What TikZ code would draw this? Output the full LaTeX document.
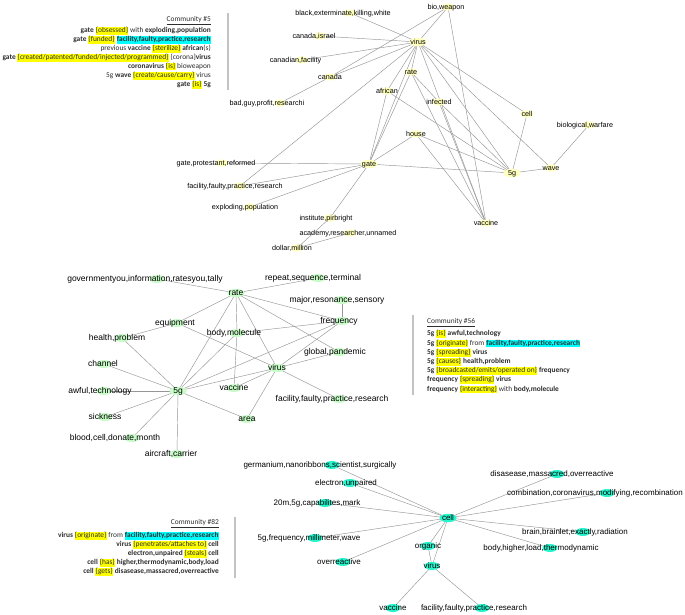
\documentclass[tikz,border=0pt]{standalone}
\usepackage{fontspec}
\setmainfont{Liberation Sans}
\newfontfamily\calfont{Carlito}
\usetikzlibrary{shapes.geometric,backgrounds}
\definecolor{ylw}{RGB}{255,255,190}
\definecolor{grn}{RGB}{200,252,200}
\definecolor{cyn}{RGB}{40,245,205}
\definecolor{edgegray}{RGB}{150,150,150}
\definecolor{sepgray}{RGB}{195,195,195}
\definecolor{hlyellow}{RGB}{255,255,0}
\definecolor{hlcyan}{RGB}{0,255,255}
\definecolor{txtgray}{RGB}{45,45,45}
\newcommand\hlY[1]{{\setlength{\fboxsep}{0.3pt}\colorbox{hlyellow}{\rule[-1.7pt]{0pt}{7.1pt}#1}}}
\newcommand\hlC[1]{{\setlength{\fboxsep}{0.3pt}\colorbox{hlcyan}{\rule[-1.7pt]{0pt}{7.1pt}#1}}}
% #1 style, #2 name, #3 x, #4 y, #5 label x, #6 text
\newcommand\gnode[6]{%
  \node[#1] (#2) at (#3,#4) {};
  \node[lbl] (#2-t) at (#5,#4) {#6};}
\tikzset{
  blob/.style={ellipse, inner sep=0pt, minimum width=13pt, minimum height=7pt},
  big/.style={minimum width=17pt, minimum height=8.5pt},
  yn/.style={blob, fill=ylw},
  gn/.style={blob, fill=grn, minimum width=15pt, minimum height=8pt},
  cn/.style={blob, fill=cyn, minimum width=15pt, minimum height=8pt},
  edge/.style={draw=edgegray, line width=0.45pt},
  sep/.style={draw=sepgray, line width=1.1pt},
  cl/.style={font=\calfont\fontsize{7.4}{8.8}\selectfont, inner sep=0pt, text height=5.6pt, text depth=1.7pt, text=txtgray},
}
\begin{document}
\begin{tikzpicture}[x=1pt,y=-1pt]
\useasboundingbox (0,0) rectangle (685,614);

% ---------------- top cluster (yellow) ----------------
\begin{scope}[lbl/.style={font=\fontsize{7.2}{8}\selectfont, inner sep=0pt, text height=0.7em, text depth=0.2em}]
\gnode{yn,big}{tvirus}{418}{42}{418}{virus}
\gnode{yn}{tbio}{448}{7}{446}{bio,weapon}
\gnode{yn}{tblack}{350}{13}{343}{black,exterminate,killing,white}
\gnode{yn}{tcanis}{320}{36}{314}{canada,israel}
\gnode{yn}{tcanfac}{302}{60}{295.5}{canadian,facility}
\gnode{yn}{tcanada}{330}{77}{330}{canada}
\gnode{yn}{trate}{411}{72}{411}{rate}
\gnode{yn}{tafrican}{387}{91}{387}{african}
\gnode{yn}{tbad}{280}{103}{267}{bad,guy,profit,researchi}
\gnode{yn}{tinf}{439}{102}{439}{infected}
\gnode{yn}{thouse}{416}{134}{416}{house}
\gnode{yn}{tcell}{527}{114}{527}{cell}
\gnode{yn}{tbiow}{589}{125}{585}{biological,warfare}
\gnode{yn}{twave}{551}{168}{551}{wave}
\gnode{yn,big}{tfiveg}{512}{173}{512}{5g}
\gnode{yn}{tvac}{486}{223}{486}{vaccine}
\gnode{yn,big}{tgate}{369}{164}{369}{gate}
\gnode{yn}{tgpr}{222}{163}{216}{gate,protestant,reformed}
\gnode{yn}{tfac}{240}{186}{235}{facility,faulty,practice,research}
\gnode{yn}{texp}{250}{207}{245}{exploding,population}
\gnode{yn}{tinst}{330}{218}{326}{institute,pirbright}
\gnode{yn}{tacad}{350}{233}{348}{academy,researcher,unnamed}
\gnode{yn}{tdol}{297}{248}{292}{dollar,million}
\end{scope}

% ---------------- middle cluster (green) ----------------
\begin{scope}[lbl/.style={font=\fontsize{8.5}{9}\selectfont, inner sep=0pt, text height=0.7em, text depth=0.2em}]
\gnode{gn}{mgov}{157}{279}{145}{governmentyou,information,ratesyou,tally}
\gnode{gn,big}{mrate}{236}{293}{236}{rate}
\gnode{gn}{mrep}{318}{278}{313}{repeat,sequence,terminal}
\gnode{gn}{mmaj}{342}{300}{337}{major,resonance,sensory}
\gnode{gn}{mfreq}{342}{321}{339}{frequency}
\gnode{gn}{mequip}{177}{323}{175}{equipment}
\gnode{gn}{mhealth}{122}{338}{117}{health,problem}
\gnode{gn}{mbody}{237}{333}{234}{body,molecule}
\gnode{gn}{mglob}{339}{352}{335}{global,pandemic}
\gnode{gn}{mchan}{104}{364}{103}{channel}
\gnode{gn,big}{mvirus}{277}{368}{277}{virus}
\gnode{gn}{mawful}{104}{391}{100}{awful,technology}
\gnode{gn,big}{mfiveg}{178}{391}{178}{5g}
\gnode{gn}{mvac}{234}{388}{234}{vaccine}
\gnode{gn}{mfac}{339}{399}{332}{facility,faulty,practice,research}
\gnode{gn}{msick}{105}{417}{105}{sickness}
\gnode{gn}{marea}{247}{419}{247}{area}
\gnode{gn}{mblood}{132}{438}{115}{blood,cell,donate,month}
\gnode{gn}{mair}{177}{454}{171}{aircraft,carrier}
\end{scope}

% ---------------- bottom cluster (cyan) ----------------
\begin{scope}[lbl/.style={font=\fontsize{8}{9}\selectfont, inner sep=0pt, text height=0.7em, text depth=0.2em}]
\gnode{cn}{bgerm}{332}{465}{320}{germanium,nanoribbons,scientist,surgically}
\gnode{cn}{belec}{350}{483}{346}{electron,unpaired}
\gnode{cn}{btwenty}{325}{503}{317}{20m,5g,capabilites,mark}
\gnode{cn}{bfreq}{315}{538}{309}{5g,frequency,millimeter,wave}
\gnode{cn}{bover}{343}{562}{339}{overreactive}
\gnode{cn,big}{bcell}{448}{518}{448}{cell}
\gnode{cn}{borg}{428}{546}{428}{organic}
\gnode{cn}{bvirus}{432}{566}{432}{virus}
\gnode{cn}{bvac}{393}{608}{393}{vaccine}
\gnode{cn}{bfac}{482}{608}{474}{facility,faulty,practice,research}
\gnode{cn}{bdis}{557}{474}{552}{disasease,massacred,overreactive}
\gnode{cn}{bcomb}{607}{493}{595}{combination,coronavirus,modifying,recombination}
\gnode{cn}{bbrain}{583}{532}{575}{brain,brainlet,exactly,radiation}
\gnode{cn}{bbody}{550}{548}{541}{body,higher,load,thermodynamic}
\end{scope}

% ---------------- edges ----------------
\begin{pgfonlayer}{background}
\fill[white] (0,0) rectangle (685,614);
\foreach \a/\b in {tvirus/tblack, tvirus/tcanis, tvirus/tcanfac, tvirus/tcanada, tvirus/tbio,
  tvirus/trate, tvirus/tafrican, tvirus/tgate, tvirus/tvac, tvirus/tfiveg, tvirus/tcell,
  tvirus/twave, tvirus/tfac, tbio/tcanada, tbio/tvac, tcanada/tbad, trate/tgate, trate/tinf,
  trate/tvac, tinf/tfiveg, tinf/tvac, tafrican/tgate, tafrican/tfiveg, thouse/tgate,
  thouse/tfiveg, thouse/tvac, tgate/tgpr, tgate/tfac, tgate/texp, tgate/tinst, tgate/tfiveg,
  tinst/tdol, tacad/tdol, tfiveg/tcell, tfiveg/twave, twave/tbiow,
  mrate/mgov, mrate/mrep, mrate/mfreq, mrate/mglob, mrate/mequip, mrate/mbody, mrate/mfiveg,
  mrate/mvirus, mbody/mvac, mbody/mfreq, mbody/mfiveg, mequip/mhealth, mequip/mvirus,
  mfiveg/mhealth, mfiveg/mchan, mfiveg/mawful, mfiveg/msick, mfiveg/mblood, mfiveg/mair,
  mfiveg/marea, mfiveg/mvirus, mfiveg/mfreq, mvirus/mvac, mvirus/marea, mvirus/mfreq,
  mvirus/mglob, mvirus/mfac, mfreq/mmaj,
  bcell/bgerm, bcell/belec, bcell/btwenty, bcell/bfreq, bcell/bover, bcell/bdis, bcell/bcomb,
  bcell/bbrain, bcell/bbody, bcell/borg, bcell/bvirus, borg/bvirus, bvirus/bvac, bvirus/bfac}
  \draw[edge] (\a.center) -- (\b.center);
\end{pgfonlayer}

% ---------------- community boxes ----------------
\coordinate (s1a) at (228,13); \coordinate (s1b) at (228,90);
\draw[sep] (s1a) -- (s1b);
\node[cl,anchor=east] (c5h) at (211,19.5) {\underline{Community \#5}};
\node[cl,anchor=east] (c5a) at (211,31) {\textbf{gate} \hlY{\{obsessed\}} with \textbf{exploding,population}};
\node[cl,anchor=east] (c5b) at (211,40) {\textbf{gate} \hlY{\{funded\}} \hlC{\textbf{facility,faulty,practice,research}}};
\node[cl,anchor=east] (c5c) at (211,48.8) {previous \textbf{vaccine} \hlY{\{sterilize\}} \textbf{african}(s)};
\node[cl,anchor=east] (c5d) at (211,57.7) {\textbf{gate} \hlY{\{created/patented/funded/injected/programmed\}} \{corona\}\textbf{virus}};
\node[cl,anchor=east] (c5e) at (211,66.5) {\textbf{coronavirus} \hlY{\{is\}} bioweapon};
\node[cl,anchor=east] (c5f) at (211,75.6) {5g \textbf{wave} \hlY{\{create/cause/carry\}} virus};
\node[cl,anchor=east] (c5g) at (211,84.6) {\textbf{gate} \hlY{\{is\}} \textbf{5g}};

\coordinate (s2a) at (413,315); \coordinate (s2b) at (413,395);
\draw[sep] (s2a) -- (s2b);
\node[cl,anchor=west] (c56h) at (427,322) {\underline{Community \#56}};
\node[cl,anchor=west] (c56a) at (427,334) {\textbf{5g} \hlY{\{is\}} \textbf{awful,technology}};
\node[cl,anchor=west] (c56b) at (427,343.5) {\textbf{5g} \hlY{\{originate\}} from \hlC{\textbf{facility,faulty,practice,research}}};
\node[cl,anchor=west] (c56c) at (427,352.6) {\textbf{5g} \hlY{\{spreading\}} \textbf{virus}};
\node[cl,anchor=west] (c56d) at (427,361.7) {\textbf{5g} \hlY{\{causes\}} \textbf{health,problem}};
\node[cl,anchor=west] (c56e) at (427,370.8) {\textbf{5g} \hlY{\{broadcasted/emits/operated on\}} \textbf{frequency}};
\node[cl,anchor=west] (c56f) at (427,380) {\textbf{frequency} \hlY{\{spreading\}} \textbf{virus}};
\node[cl,anchor=west] (c56g) at (427,389.3) {\textbf{frequency} \hlY{\{interacting\}} with \textbf{body,molecule}};

\coordinate (s3a) at (235,517); \coordinate (s3b) at (235,578);
\draw[sep] (s3a) -- (s3b);
\node[cl,anchor=east] (c82h) at (219,523) {\underline{Community \#82}};
\node[cl,anchor=east] (c82a) at (219,535.7) {\textbf{virus} \hlY{\{originate\}} from \hlC{\textbf{facility,faulty,practice,research}}};
\node[cl,anchor=east] (c82b) at (219,545) {\textbf{virus} \hlY{\{penetrates/attaches to\}} \textbf{cell}};
\node[cl,anchor=east] (c82c) at (219,554) {\textbf{electron,unpaired} \hlY{\{steals\}} \textbf{cell}};
\node[cl,anchor=east] (c82d) at (219,562.8) {\textbf{cell} \hlY{\{has\}} \textbf{higher,thermodynamic,body,load}};
\node[cl,anchor=east] (c82e) at (219,572) {\textbf{cell} \hlY{\{gets\}} \textbf{disasease,massacred,overreactive}};
\end{tikzpicture}
\end{document}
